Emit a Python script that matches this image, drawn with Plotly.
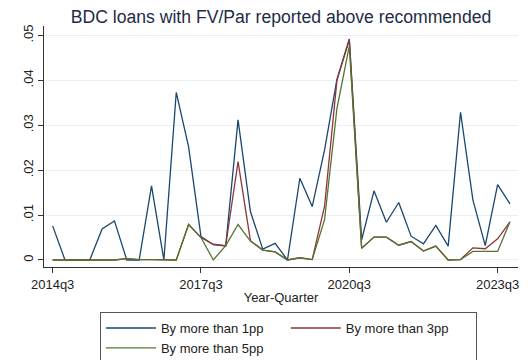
import plotly.graph_objects as go

quarters = [
    "2014q3", "2014q4", "2015q1", "2015q2", "2015q3", "2015q4", "2016q1", "2016q2",
    "2016q3", "2016q4", "2017q1", "2017q2", "2017q3", "2017q4", "2018q1", "2018q2",
    "2018q3", "2018q4", "2019q1", "2019q2", "2019q3", "2019q4", "2020q1", "2020q2",
    "2020q3", "2020q4", "2021q1", "2021q2", "2021q3", "2021q4", "2022q1", "2022q2",
    "2022q3", "2022q4", "2023q1", "2023q2", "2023q3", "2023q4",
]

above_1pp = [
    0.0076, 0.0, 0.0, 0.0, 0.0069, 0.0087, 0.0, 0.0,
    0.0165, 0.0, 0.0373, 0.0252, 0.0052, 0.0034, 0.0031, 0.0312,
    0.0108, 0.0024, 0.0037, 0.0, 0.0182, 0.0119, 0.0245, 0.0402,
    0.0492, 0.0045, 0.0154, 0.0084, 0.0128, 0.0053, 0.0036, 0.0077,
    0.0031, 0.0329, 0.0134, 0.0032, 0.0168, 0.0125,
]

above_3pp = [
    0.0, 0.0, 0.0, 0.0, 0.0, 0.0, 0.0003, 0.0001,
    0.0001, 0.0, 0.0, 0.0079, 0.0050, 0.0035, 0.0032, 0.0219,
    0.0043, 0.0022, 0.0018, 0.0, 0.0005, 0.0001, 0.0120, 0.0400,
    0.0490, 0.0026, 0.0051, 0.0051, 0.0033, 0.0041, 0.0020, 0.0031,
    0.0, 0.0001, 0.0027, 0.0025, 0.0047, 0.0085,
]

above_5pp = [
    0.0, 0.0, 0.0, 0.0, 0.0, 0.0, 0.0003, 0.0001,
    0.0001, 0.0, 0.0, 0.0079, 0.0050, 0.0, 0.0032, 0.0079,
    0.0042, 0.0022, 0.0018, 0.0, 0.0005, 0.0001, 0.0090, 0.0337,
    0.0476, 0.0026, 0.0051, 0.0051, 0.0033, 0.0041, 0.0020, 0.0031,
    0.0, 0.0001, 0.0019, 0.0019, 0.0019, 0.0085,
]

series_names = ["By more than 1pp", "By more than 3pp", "By more than 5pp"]
series_colors = ["#1a476f", "#90353b", "#55752f"]

x_tick_labels = ["2014q3", "2017q3", "2020q3", "2023q3"]
y_tick_vals = [0, 0.01, 0.02, 0.03, 0.04, 0.05]
y_tick_text = ["0", ".01", ".02", ".03", ".04", ".05"]

fig = go.Figure()
for name, vals, col in zip(series_names, [above_1pp, above_3pp, above_5pp], series_colors):
    fig.add_trace(go.Scatter(
        x=quarters, y=vals, mode="lines", name=name,
        line=dict(color=col, width=1.3),
    ))

FONT = "Liberation Sans, Arial, sans-serif"

# The page body has an 8px default margin, so the figure is sized 8px smaller.
fig.update_layout(
    width=520, height=352,
    margin=dict(l=36, r=10, t=18, b=93, autoexpand=False),
    paper_bgcolor="white", plot_bgcolor="white",
    font=dict(family=FONT, size=13, color="#222222"),
    title=dict(
        text="BDC loans with FV/Par reported above recommended",
        x=0.5, xanchor="center", xref="paper",
        y=0.993, yanchor="top", yref="container",
        font=dict(family=FONT, size=17.6, color="#1e2b47"),
    ),
    showlegend=True,
    legend=dict(
        orientation="h",
        x=0.118, xanchor="left",
        y=-0.187, yanchor="top",
        bordercolor="#555555", borderwidth=1,
        entrywidth=0.39, entrywidthmode="fraction",
        itemwidth=50,
        font=dict(family=FONT, size=13, color="#222222"),
        tracegroupgap=0,
    ),
    xaxis=dict(
        type="category",
        categoryorder="array", categoryarray=quarters,
        range=[-0.7, 37.65],
        tickmode="array", tickvals=x_tick_labels, ticktext=x_tick_labels,
        ticks="outside", ticklen=5, tickcolor="#333333", tickwidth=1,
        showline=True, linecolor="#333333", linewidth=1,
        showgrid=False, zeroline=False, automargin=False,
        tickfont=dict(size=13),
        title=dict(text="Year-Quarter", standoff=2, font=dict(size=13)),
    ),
    yaxis=dict(
        range=[-0.00156, 0.0521],
        tickmode="array", tickvals=y_tick_vals, ticktext=y_tick_text,
        tickangle=-90,
        ticks="outside", ticklen=5, tickcolor="#333333", tickwidth=1,
        showline=True, linecolor="#333333", linewidth=1,
        showgrid=True, gridcolor="#eaf0f2", gridwidth=1,
        zeroline=False, automargin=False,
        tickfont=dict(size=13),
    ),
)

fig.write_html("out.html")
